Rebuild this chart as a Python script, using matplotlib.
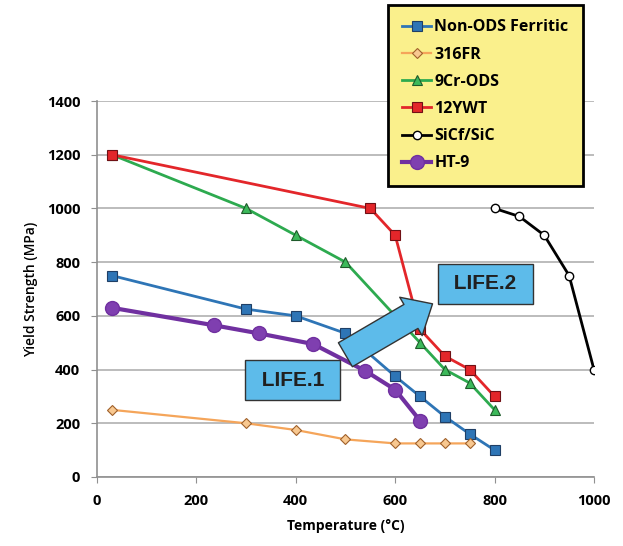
import matplotlib.pyplot as plt
from matplotlib.patches import FancyArrowPatch

plt.rcParams['font.family'] = ['Open Sans', 'DejaVu Sans']

# data
t_nonods = [30, 300, 400, 500, 600, 650, 700, 750, 800]
y_nonods = [750, 625, 600, 535, 375, 300, 225, 160, 100]

t_316fr = [30, 300, 400, 500, 600, 650, 700, 750]
y_316fr = [250, 200, 175, 140, 125, 125, 125, 125]

t_9cr = [30, 300, 400, 500, 600, 650, 700, 750, 800]
y_9cr = [1200, 1000, 900, 800, 600, 500, 400, 350, 250]

t_12ywt = [30, 550, 600, 650, 700, 750, 800]
y_12ywt = [1200, 1000, 900, 550, 450, 400, 300]

t_sic = [800, 850, 900, 950, 1000]
y_sic = [1000, 970, 900, 750, 400]

t_ht9 = [30, 235, 325, 435, 540, 600, 650]
y_ht9 = [630, 565, 535, 495, 395, 325, 210]

fig = plt.figure(figsize=(6.23, 5.46), dpi=100)
ax = fig.add_axes([0.1557, 0.1264, 0.7977, 0.6886])

ax.plot(t_nonods, y_nonods, '-s', color='#2E75B6', lw=2, ms=6.5,
        mfc='#2E75B6', mec='#1F3F66', mew=0.8, label='Non-ODS Ferritic')
ax.plot(t_316fr, y_316fr, '-D', color='#F5A55A', lw=1.6, ms=5,
        mfc='#F8C890', mec='#A0602A', mew=0.8, label='316FR')
ax.plot(t_9cr, y_9cr, '-^', color='#2DAA4F', lw=2, ms=7.5,
        mfc='#3CB95A', mec='#1E5A2A', mew=0.8, label='9Cr-ODS')
ax.plot(t_12ywt, y_12ywt, '-s', color='#E3262A', lw=2, ms=6.5,
        mfc='#E3262A', mec='#701015', mew=0.8, label='12YWT')
ax.plot(t_sic, y_sic, '-o', color='black', lw=2, ms=6,
        mfc='white', mec='black', mew=1.0, label='SiCf/SiC')
ax.plot(t_ht9, y_ht9, '-o', color='#7030A0', lw=3, ms=10,
        mfc='#7F3FB0', mec='#7030A0', label='HT-9')

ax.set_xlim(0, 1000)
ax.set_ylim(0, 1400)
ax.set_xticks(range(0, 1001, 200))
ax.set_yticks(range(0, 1401, 200))
ax.yaxis.grid(True, color='#b0b0b0', lw=1.2)
ax.set_axisbelow(True)
for s in ['top', 'right']:
    ax.spines[s].set_visible(False)
for s in ['left', 'bottom']:
    ax.spines[s].set_color('#909090')
    ax.spines[s].set_linewidth(1.2)
ax.tick_params(direction='out', length=4, color='#909090', labelsize=10.5, pad=8)
for lab in ax.get_xticklabels() + ax.get_yticklabels():
    lab.set_fontweight('bold')
ax.set_xlabel('Temperature (°C)', fontsize=10, fontweight='bold', labelpad=8)
ax.set_ylabel('Yield Strength (MPa)', fontsize=10, fontweight='semibold', labelpad=6)

leg = ax.legend(loc='upper left', bbox_to_anchor=(388 / 623, 1 - 5 / 546),
                bbox_transform=fig.transFigure, frameon=True, fancybox=False,
                prop={'weight': 'bold', 'size': 11.5}, handlelength=1.8,
                handletextpad=0.2, labelspacing=0.7, borderpad=0.9,
                borderaxespad=0)
leg.get_frame().set_facecolor('#FAF08C')
leg.get_frame().set_edgecolor('black')
leg.get_frame().set_linewidth(2)
leg.get_frame().set_alpha(1)

box = dict(boxstyle='square,pad=0.5', fc='#5DBBEA', ec='#333333', lw=1)
ax.text(394, 360, ' LIFE.1 ', ha='center', va='center', fontsize=15,
        fontweight='bold', family='Liberation Sans', color='#202020',
        bbox=box, zorder=6)
ax.text(781, 719, ' LIFE.2 ', ha='center', va='center', fontsize=15,
        fontweight='bold', family='Liberation Sans', color='#202020',
        bbox=box, zorder=6)

arrow = FancyArrowPatch((495, 450), (680, 650),
                        arrowstyle='simple,head_length=0.9,head_width=1.6,tail_width=1.0',
                        mutation_scale=20, fc='#5DBBEA', ec='#333333', lw=1, zorder=7)
ax.add_patch(arrow)

fig.savefig('out.png', dpi=100)
